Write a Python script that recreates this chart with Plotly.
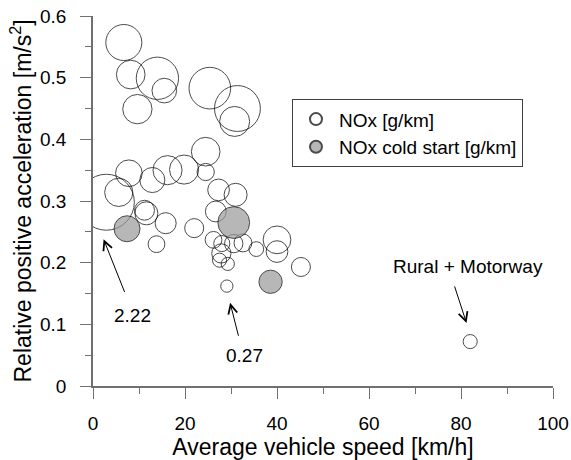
import plotly.graph_objects as go

# ---- data ----
speed_nox = [6.7, 8.2, 14.0, 15.5, 9.65, 25.4, 31.4, 30.8, 24.5, 24.5, 19.8, 16.2, 12.9, 7.8,
             5.6, 2.9, 11.2, 11.6, 15.8, 13.8, 22.0, 27.3, 31.0, 26.7, 26.2, 28.0, 30.6, 32.6,
             35.5, 40.0, 40.0, 27.9, 27.5, 29.3, 45.2, 29.1, 82.0]
rpa_nox = [0.557, 0.505, 0.499, 0.479, 0.449, 0.483, 0.450, 0.429, 0.380, 0.347, 0.351, 0.350,
           0.334, 0.345, 0.314, 0.298, 0.285, 0.280, 0.264, 0.230, 0.256, 0.318, 0.310, 0.283,
           0.237, 0.231, 0.231, 0.232, 0.222, 0.237, 0.218, 0.215, 0.204, 0.198, 0.193, 0.162, 0.072]
nox = [1.33, 1.00, 1.61, 0.82, 1.03, 1.58, 1.77, 1.06, 1.00, 0.49, 1.02, 1.02, 0.84, 0.91,
       0.98, 2.22, 0.61, 0.75, 0.66, 0.47, 0.57, 0.69, 0.75, 0.65, 0.47, 0.44, 0.54, 0.52,
       0.38, 0.96, 0.69, 0.58, 0.35, 0.31, 0.57, 0.27, 0.35]

speed_cold = [7.4, 30.6, 38.6]
rpa_cold = [0.255, 0.265, 0.169]
nox_cold = [0.88, 1.14, 0.76]

x_ticks = [0, 20, 40, 60, 80, 100]
y_ticks = [0, 0.1, 0.2, 0.3, 0.4, 0.5, 0.6]

ann_texts = ["2.22", "0.27", "Rural + Motorway"]
ann_text_x = [8.6, 33.0, 81.5]
ann_text_y = [0.115, 0.050, 0.193]
arrow_head_x = [2.3, 29.8, 81.2]
arrow_head_y = [0.238, 0.135, 0.102]
arrow_tail_x = [7.0, 31.7, 78.5]
arrow_tail_y = [0.150, 0.079, 0.164]


def bubble(v):
    return 6.25 + 22.4 * v


FONT = "Liberation Sans, Arial, sans-serif"

fig = go.Figure()
fig.add_trace(go.Scatter(
    x=speed_nox, y=rpa_nox, mode="markers", name="NOx [g/km]",
    marker=dict(size=[bubble(v) for v in nox], color="rgba(255,255,255,0)",
                line=dict(color="black", width=1)),
))
fig.add_trace(go.Scatter(
    x=speed_cold, y=rpa_cold, mode="markers", name="NOx cold start [g/km]",
    marker=dict(size=[bubble(v) for v in nox_cold], color="#999999",
                line=dict(color="black", width=1)),
))

annotations = []
for i in range(len(ann_texts)):
    annotations.append(dict(
        x=arrow_head_x[i], y=arrow_head_y[i], ax=arrow_tail_x[i], ay=arrow_tail_y[i],
        xref="x", yref="y", axref="x", ayref="y", text="", showarrow=True,
        arrowhead=5, arrowsize=1.8, arrowwidth=1, arrowcolor="black", standoff=0,
    ))
    annotations.append(dict(
        x=ann_text_x[i], y=ann_text_y[i], xref="x", yref="y", text=ann_texts[i],
        showarrow=False, font=dict(size=19, color="black", family=FONT),
    ))

axis_common = dict(
    showgrid=False, zeroline=False, showline=True, linecolor="#707070", linewidth=1.5,
    ticks="outside", ticklen=11, tickwidth=1.2, tickcolor="#707070",
    tickfont=dict(size=19, color="black", family=FONT),
    automargin=False,
)

fig.update_layout(
    width=571, height=460,
    margin=dict(l=93, r=18, t=16, b=74),
    paper_bgcolor="white", plot_bgcolor="white",
    font=dict(family=FONT, color="black"),
    xaxis=dict(range=[0, 100], tickvals=x_ticks, ticklabelstandoff=8,
               minor=dict(dtick=10, ticklen=6, tickcolor="#707070", ticks="outside", showgrid=False),
               title=dict(text="Average vehicle speed [km/h]", font=dict(size=23, family=FONT), standoff=4),
               **axis_common),
    yaxis=dict(range=[0, 0.6], tickvals=y_ticks, ticklabelstandoff=10,
               minor=dict(dtick=0.05, ticklen=6, tickcolor="#707070", ticks="outside", showgrid=False),
               title=dict(text="Relative positive acceleration [m/s<sup>2</sup>]", font=dict(size=23, family=FONT), standoff=2),
               **axis_common),
    legend=dict(x=0.4326, y=0.775, xanchor="left", yanchor="top",
                bordercolor="#404040", borderwidth=1, bgcolor="white",
                font=dict(size=19, family=FONT, color="black"),
                itemsizing="constant", itemwidth=36, tracegroupgap=0),
    showlegend=True,
    annotations=annotations,
)

fig.write_html("out.html")
